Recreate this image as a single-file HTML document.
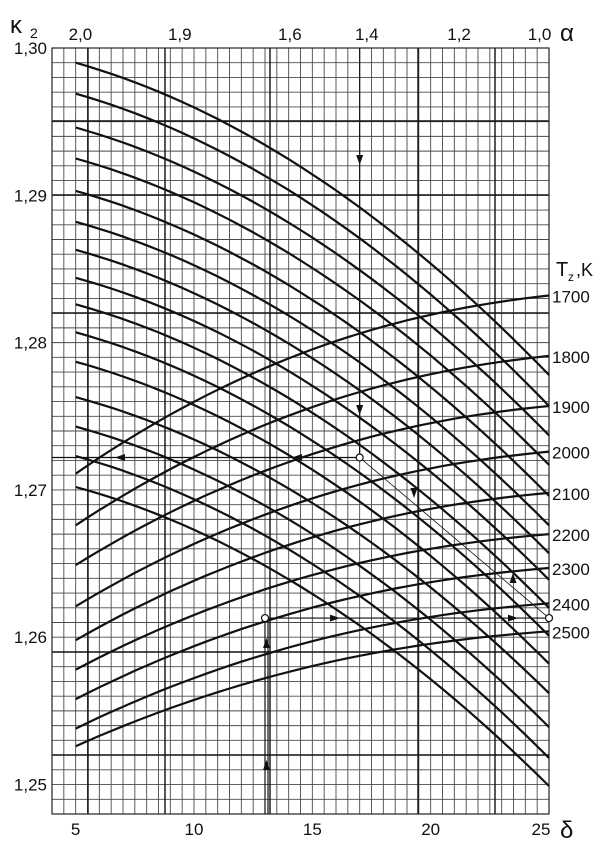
<!DOCTYPE html>
<html><head><meta charset="utf-8"><style>
html,body{margin:0;padding:0;background:#fff;width:608px;height:843px;overflow:hidden}
svg text{font-family:"Liberation Sans",sans-serif;fill:#111}
</style></head><body>
<svg id="chart" width="608" height="843" viewBox="0 0 608 843" xmlns="http://www.w3.org/2000/svg"></svg>
<script>
const deltaTicks = [5, 10, 15, 20, 25];
const k2Ticks = [1.30, 1.29, 1.28, 1.27, 1.26, 1.25];
const k2TickLabels = ["1,30", "1,29", "1,28", "1,27", "1,26", "1,25"];
const alphaLabels = ["2,0", "1,9", "1,6", "1,4", "1,2", "1,0"];
const alphaLabelDelta = [5.2, 9.4, 14.05, 17.3, 21.2, 24.6];
// descending alpha lines: k2 at delta=5 and at delta=25
const alphaStartK = [1.2990, 1.2969, 1.2946, 1.2925, 1.2903, 1.2882, 1.2863, 1.2844, 1.2826, 1.2807, 1.2787, 1.2763, 1.2743, 1.2723, 1.2702];
const alphaEndK = [1.2778, 1.2757, 1.2737, 1.2717, 1.2696, 1.2676, 1.2657, 1.2639, 1.2620, 1.2601, 1.2582, 1.2562, 1.2539, 1.2518, 1.2499];
// rising Tz curves
const tzLabels = ["1700", "1800", "1900", "2000", "2100", "2200", "2300", "2400", "2500"];
const tzStartK = [1.2711, 1.2676, 1.2649, 1.2621, 1.2598, 1.2578, 1.2558, 1.2538, 1.2526];
const tzEndK = [1.2832, 1.2791, 1.2757, 1.2726, 1.2698, 1.2670, 1.2647, 1.2623, 1.2604];
// worked example
const exDelta1 = 17.0, exK1 = 1.2722, exDeltaR = 25, exK2 = 1.2613, exDelta2 = 13.0;

const NS = "http://www.w3.org/2000/svg";
const svg = document.getElementById('chart');
const X0 = 52, X1 = 549, Y0 = 48, Y1 = 814;
const dMin = 4, dMax = 25, kMin = 1.248, kMax = 1.300;
const xS = d => X0 + (d - dMin) / (dMax - dMin) * (X1 - X0);
const yS = k => Y0 + (kMax - k) / (kMax - kMin) * (Y1 - Y0);
function mk(tag, attrs, parent) {
  const e = document.createElementNS(NS, tag);
  for (const k in attrs) e.setAttribute(k, attrs[k]);
  (parent || svg).appendChild(e);
  return e;
}
const grid = mk('g', {});


for (let i = 0; i <= 42; i++) {
  const x = xS(dMin + i * 0.5);
  const l = mk('line', {x1: x, x2: x, y1: Y0, y2: Y1, stroke: '#4a4a4a', 'stroke-width': 0.9}, grid);
  
  
}
for (let i = 0; i <= 52; i++) {
  const y = yS(kMin + i * 0.001);
  const l = mk('line', {x1: X0, x2: X1, y1: y, y2: y, stroke: '#4a4a4a', 'stroke-width': 0.9}, grid);
  
  
}
[88, 165, 270, 418, 495].forEach(x => {
  const l = mk('line', {x1: x, x2: x, y1: Y0, y2: Y1, stroke: '#111', 'stroke-width': 1.4}, grid);
  
  
});
[121, 195, 313, 652, 755].forEach(y => {
  const l = mk('line', {x1: X0, x2: X1, y1: y, y2: y, stroke: '#111', 'stroke-width': 1.4}, grid);
  
  
});
const frame = mk('rect', {x: X0, y: Y0, width: X1 - X0, height: Y1 - Y0, fill: 'none', stroke: '#222', 'stroke-width': 1.2});



function curve(k0, k1, f) {
  let p = '';
  for (let i = 0; i <= 40; i++) {
    const t = i / 40, d = 5 + 20 * t;
    const k = k0 + (k1 - k0) * f(t);
    p += (i ? 'L' : 'M') + xS(d).toFixed(1) + ',' + yS(k).toFixed(1);
  }
  return p;
}
alphaStartK.forEach((k0, i) => {
  const p = mk('path', {d: curve(k0, alphaEndK[i], t => 0.43 * t + 0.57 * t * t), fill: 'none', stroke: '#111', 'stroke-width': 2.2});
  
  
});
tzStartK.forEach((k0, i) => {
  const p = mk('path', {d: curve(k0, tzEndK[i], t => 0.3 * t + 0.7 * (1 - Math.pow(1 - t, 2.2))), fill: 'none', stroke: '#111', 'stroke-width': 2.2});
  
  
  const tx = mk('text', {x: 552, y: yS(tzEndK[i]) + 7, 'font-size': 17});
  tx.textContent = tzLabels[i];
  
  
});
const ex = mk('g', {stroke: '#111', 'stroke-width': 1.2, fill: 'none'});


const ax = xS(exDelta1), ay = yS(exK1), by = yS(exK2), bx2 = xS(exDelta2);
mk('line', {x1: ax, x2: ax, y1: Y0, y2: ay}, ex);
mk('line', {x1: X0, x2: ax, y1: ay, y2: ay}, ex);
mk('line', {x1: ax, y1: ay, x2: xS(exDeltaR), y2: by, 'stroke-width': 0.8}, ex);
mk('line', {x1: bx2, x2: xS(exDeltaR), y1: by, y2: by}, ex);
mk('line', {x1: bx2, x2: bx2, y1: by, y2: Y1}, ex);
mk('line', {x1: bx2 + 3, x2: bx2 + 3, y1: by, y2: Y1}, ex);
function arrow(x, y, dir) {
  const s = 5, pts = {down: [[x - 3.5, y - s], [x + 3.5, y - s], [x, y + s]], up: [[x - 3.5, y + s], [x + 3.5, y + s], [x, y - s]], left: [[x + s, y - 3.5], [x + s, y + 3.5], [x - s, y]], right: [[x - s, y - 3.5], [x - s, y + 3.5], [x + s, y]]}[dir];
  const a = mk('polygon', {points: pts.map(p => p.join(',')).join(' '), fill: '#111'});
  
  
}
arrow(ax, 160, 'down'); arrow(ax, 410, 'down');
arrow(120, ay, 'left'); arrow(297, ay, 'left');
arrow(414, 493, 'down'); arrow(513, 578, 'up');
arrow(335, by, 'right'); arrow(513, by, 'right');
arrow(bx2 + 1.5, 643, 'up'); arrow(bx2 + 1.5, 765, 'up');
[[ax, ay], [xS(exDeltaR), by], [bx2, by]].forEach(([x, y]) => {
  const c = mk('circle', {cx: x, cy: y, r: 3.5, fill: '#fff', stroke: '#111', 'stroke-width': 1.2});
  
  
});
k2Ticks.forEach((k, i) => {
  const t = mk('text', {x: 47, y: yS(k) + 6, 'font-size': 17, 'text-anchor': 'end'});
  t.textContent = k2TickLabels[i];
  
  
});
deltaTicks.forEach((d, i) => {
  const t = mk('text', {x: i === 4 ? xS(d) - 8 : xS(d), y: 835, 'font-size': 17, 'text-anchor': 'middle'});
  t.textContent = String(d);
  
  
});
alphaLabels.forEach((s, i) => {
  const t = mk('text', {x: xS(alphaLabelDelta[i]), y: 40, 'font-size': 17, 'text-anchor': 'middle'});
  t.textContent = s;
  
  
});
function label(txt, x, y, size, name) {
  const t = mk('text', {x: x, y: y, 'font-size': size});
  t.textContent = txt;
  
  
  return t;
}
label('κ', 10, 33, 24, 'y-axis-title');
label('2', 30, 38, 14, 'y-axis-title-subscript');
label('α', 560, 41, 24, 'alpha-axis-title');
label('δ', 560, 838, 24, 'x-axis-title');
label('T', 556, 276, 20, 'tz-axis-title');
label('z', 568, 281, 12, 'tz-axis-title-subscript');
label(',K', 576, 276, 18, 'tz-axis-unit');
</script>
</body></html>
